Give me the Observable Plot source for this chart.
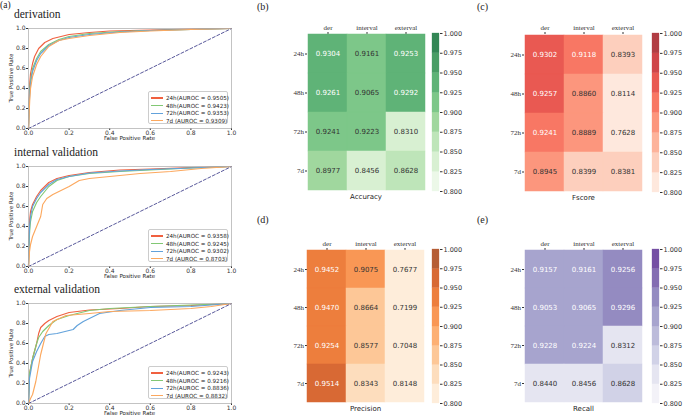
<!DOCTYPE html>
<html><head><meta charset="utf-8">
<script src="https://cdn.jsdelivr.net/npm/d3@7"></script>
<script src="https://cdn.jsdelivr.net/npm/@observablehq/plot@0.6"></script>
<style>
body{margin:0;background:#fff}
#fig{position:relative;width:685px;height:417px;overflow:hidden;background:#fff;font-family:"DejaVu Sans",sans-serif;color:#222}
</style></head><body><div id="fig"></div>
<script>
// ---------------- data ----------------
const rocSeries = ["24h", "48h", "72h", "7d"];
const rocTicks = [0, 0.2, 0.4, 0.6, 0.8, 1.0];
const chanceLine = [0, 1];

const aurocDerivation = [0.9505, 0.9423, 0.9353, 0.9309];
const aurocInternal = [0.9358, 0.9245, 0.9302, 0.8703];
const aurocExternal = [0.9243, 0.9216, 0.8836, 0.8832];

const derivation24h = [[0,0],[0.003,0.3],[0.006,0.45],[0.01,0.55],[0.02,0.65],[0.03,0.72],[0.05,0.8],[0.08,0.86],[0.12,0.9],[0.2,0.94],[0.3,0.96],[0.4,0.975],[0.6,0.985],[0.8,0.995],[1,1]];
const derivation48h = [[0,0],[0.003,0.25],[0.006,0.38],[0.01,0.48],[0.02,0.6],[0.04,0.7],[0.06,0.77],[0.1,0.84],[0.15,0.89],[0.2,0.92],[0.3,0.95],[0.45,0.97],[0.6,0.98],[0.8,0.99],[1,1]];
const derivation72h = [[0,0],[0.003,0.22],[0.006,0.35],[0.01,0.45],[0.02,0.57],[0.04,0.68],[0.06,0.75],[0.1,0.83],[0.15,0.88],[0.2,0.91],[0.3,0.94],[0.45,0.965],[0.6,0.98],[0.8,0.99],[1,1]];
const derivation7d = [[0,0],[0.003,0.15],[0.006,0.28],[0.01,0.4],[0.02,0.52],[0.04,0.64],[0.06,0.72],[0.1,0.82],[0.15,0.88],[0.2,0.9],[0.3,0.93],[0.45,0.96],[0.6,0.975],[0.8,0.99],[1,1]];

const internal24h = [[0,0],[0.003,0.35],[0.006,0.47],[0.01,0.55],[0.02,0.62],[0.04,0.7],[0.06,0.76],[0.1,0.84],[0.14,0.88],[0.2,0.91],[0.3,0.94],[0.45,0.965],[0.6,0.975],[0.8,0.99],[1,1]];
const internal48h = [[0,0],[0.003,0.25],[0.006,0.36],[0.01,0.45],[0.02,0.55],[0.04,0.64],[0.06,0.7],[0.1,0.8],[0.14,0.86],[0.2,0.9],[0.3,0.93],[0.45,0.95],[0.6,0.965],[0.8,0.985],[1,1]];
const internal72h = [[0,0],[0.003,0.3],[0.006,0.42],[0.01,0.5],[0.02,0.6],[0.04,0.68],[0.06,0.74],[0.1,0.82],[0.14,0.87],[0.2,0.9],[0.3,0.935],[0.45,0.955],[0.6,0.97],[0.8,0.985],[1,1]];
const internal7d = [[0,0],[0.005,0.15],[0.01,0.22],[0.02,0.3],[0.04,0.4],[0.06,0.5],[0.07,0.62],[0.09,0.68],[0.12,0.72],[0.16,0.76],[0.2,0.8],[0.25,0.86],[0.3,0.88],[0.4,0.9],[0.55,0.93],[0.7,0.95],[0.85,0.98],[1,1]];

const external24h = [[0,0],[0.005,0.3],[0.02,0.45],[0.04,0.6],[0.05,0.7],[0.06,0.76],[0.08,0.8],[0.1,0.83],[0.14,0.87],[0.2,0.91],[0.3,0.935],[0.45,0.95],[0.6,0.97],[0.8,0.98],[1,1]];
const external48h = [[0,0],[0.005,0.3],[0.02,0.45],[0.04,0.6],[0.05,0.66],[0.07,0.72],[0.1,0.78],[0.14,0.84],[0.2,0.88],[0.3,0.93],[0.4,0.95],[0.6,0.97],[0.8,0.985],[1,1]];
const external72h = [[0,0],[0.005,0.25],[0.02,0.42],[0.04,0.52],[0.06,0.6],[0.08,0.67],[0.1,0.69],[0.14,0.7],[0.18,0.72],[0.22,0.74],[0.24,0.78],[0.27,0.82],[0.3,0.85],[0.35,0.9],[0.45,0.93],[0.6,0.96],[0.8,0.97],[1,1]];
const external7d = [[0,0],[0.01,0.05],[0.02,0.09],[0.036,0.22],[0.06,0.49],[0.086,0.7],[0.12,0.82],[0.185,0.88],[0.3,0.9],[0.4,0.92],[0.6,0.93],[0.8,0.95],[0.9,0.97],[1,1]];

const hmRows = ["24h", "48h", "72h", "7d"];
const hmCols = ["der", "interval", "exterval"];
const accuracy = [[0.9304,0.9161,0.9253],[0.9261,0.9065,0.9292],[0.9241,0.9223,0.8310],[0.8977,0.8456,0.8628]];
const fscore = [[0.9302,0.9118,0.8393],[0.9257,0.8860,0.8114],[0.9241,0.8889,0.7628],[0.8945,0.8399,0.8381]];
const precision = [[0.9452,0.9075,0.7677],[0.9470,0.8664,0.7199],[0.9254,0.8577,0.7048],[0.9514,0.8343,0.8148]];
const recall = [[0.9157,0.9161,0.9256],[0.9053,0.9065,0.9296],[0.9228,0.9224,0.8312],[0.8440,0.8456,0.8628]];
const cbTicks = [0.800, 0.825, 0.850, 0.875, 0.900, 0.925, 0.950, 0.975, 1.000];

// ---------------- layout helpers ----------------
const fig = document.getElementById("fig");
function add(el, css) { el.style.position = "absolute"; Object.assign(el.style, css); fig.appendChild(el); return el; }
function label(text, css) {
  const d = document.createElement("div");
  d.textContent = text; d.style.whiteSpace = "nowrap"; d.style.lineHeight = "1";
  return add(d, css);
}
const SERIF = '"Liberation Serif","DejaVu Serif",serif';
const SANS = '"DejaVu Sans",sans-serif';
const rocColors = ["#f0603f", "#82c874", "#62a2db", "#fca85e"];

// ---------------- ROC panels ----------------
function drawRoc(title, curves, aurocs, frameTop) {
  const data = curves.flatMap((pts, i) => pts.map(([x, y]) => ({x, y, s: rocSeries[i]})));
  const chance = chanceLine.map(v => ({x: v, y: v}));
  const mt = 6, mb = 14, fh = 100;
  const svg = Plot.plot({
    width: 239, height: fh + mt + mb,
    marginLeft: 28, marginRight: 8, marginTop: mt, marginBottom: mb,
    style: {fontFamily: SANS, fontSize: "6px", color: "#333", background: "none", overflow: "visible"},
    x: {domain: [0, 1], label: null},
    y: {domain: [0, 1], label: null},
    color: {domain: rocSeries, range: rocColors},
    marks: [
      Plot.axisX({ticks: rocTicks, tickFormat: d => d.toFixed(1), tickSize: 2, tickPadding: 0.5, label: null}),
      Plot.axisY({ticks: rocTicks, tickFormat: d => d.toFixed(1), tickSize: 2, tickPadding: 1, label: null}),
      Plot.line(data, {x: "x", y: "y", z: "s", stroke: "s", strokeWidth: 1.15}),
      Plot.line(chance, {x: "x", y: "y", stroke: "#45458f", strokeWidth: 0.9, strokeDasharray: "3,2"}),
      Plot.frame({stroke: "#aaa", strokeWidth: 0.7})
    ]
  });
  add(svg, {left: "0px", top: (frameTop - mt) + "px"});
  label(title, {left: "14px", top: (frameTop - 19) + "px", fontFamily: SERIF, fontSize: "11.5px", color: "#222"});
  label("True Positive Rate", {left: "12px", top: (frameTop + fh / 2) + "px", fontSize: "5.5px",
    transform: "translate(-50%,-50%) rotate(-90deg)", fontFamily: SANS});
  label("False Positive Rate", {left: "129.5px", top: (frameTop + fh + 11) + "px", fontSize: "5.5px",
    transform: "translate(-50%,-50%)", fontFamily: SANS});
  // legend
  const lg = document.createElement("div");
  add(lg, {left: "148px", top: (frameTop + 63) + "px", width: "80px", height: "33px", border: "0.7px solid #ccc",
    borderRadius: "2px", background: "#fff", boxSizing: "border-box"});
  rocSeries.forEach((s, i) => {
    const row = document.createElement("div");
    row.style.cssText = "position:absolute;left:2px;top:" + (2.5 + i * 7.6) + "px;height:7px;display:flex;align-items:center;white-space:nowrap";
    const sw = document.createElement("span");
    sw.style.cssText = "display:inline-block;width:12px;height:1.3px;background:" + rocColors[i] + ";margin-right:3px";
    const tx = document.createElement("span");
    tx.textContent = s.padEnd(3, " ") + "(AUROC = " + aurocs[i].toFixed(4) + ")";
    tx.style.cssText = "font-size:5.6px;font-family:" + SANS + ";white-space:pre;color:#222";
    row.appendChild(sw); row.appendChild(tx); lg.appendChild(row);
  });
}

label("(a)", {left: "0px", top: "1px", fontFamily: SERIF, fontSize: "9.5px"});
drawRoc("derivation", [derivation24h, derivation48h, derivation72h, derivation7d], aurocDerivation, 28);
drawRoc("internal validation", [internal24h, internal48h, internal72h, internal7d], aurocInternal, 166);
drawRoc("external validation", [external24h, external48h, external72h, external7d], aurocExternal, 303);

// ---------------- heatmaps ----------------
function blend(c, a) {
  const r = d3.rgb(c);
  return d3.rgb(255 - a * (255 - r.r), 255 - a * (255 - r.g), 255 - a * (255 - r.b)).formatHex();
}
function lum(c) {
  const r = d3.rgb(c);
  const f = v => { v /= 255; return v <= 0.03928 ? v / 12.92 : Math.pow((v + 0.055) / 1.055, 2.4); };
  return 0.2126 * f(r.r) + 0.7152 * f(r.g) + 0.0722 * f(r.b);
}
function drawHeat(caption, values, scheme, x0, y0, x1, y1, cbx) {
  const interp = d3.piecewise(d3.interpolateRgb, scheme);
  const colors = d3.range(8).map(i => blend(interp((i + 1) / 9), 0.8));
  const scale = {type: "threshold", domain: cbTicks.slice(1, -1), range: colors};
  const cs = d3.scaleThreshold(cbTicks.slice(1, -1), colors);
  const data = hmRows.flatMap((r, i) => hmCols.map((c, j) => ({r, c, v: values[i][j]})));
  const ML = 37, MT = 16;
  const svg = Plot.plot({
    width: (x1 - x0) + ML, height: (y1 - y0) + MT,
    marginLeft: ML, marginTop: MT, marginRight: 0, marginBottom: 0,
    style: {fontFamily: SERIF, fontSize: "7px", color: "#333", background: "none", overflow: "visible"},
    x: {domain: hmCols, padding: 0, axis: "top", label: null, tickSize: 2, tickPadding: 1.5},
    y: {domain: hmRows, padding: 0, label: null, tickSize: 2, tickPadding: 1.5},
    color: scale,
    marks: [
      Plot.cell(data, {x: "c", y: "r", fill: "v", stroke: "v", strokeWidth: 0.5, inset: 0}),
      Plot.text(data, {x: "c", y: "r", text: d => d.v.toFixed(4), fontFamily: SANS, fontSize: 7,
        fill: d => lum(cs(d.v)) < 0.408 ? "#fff" : "#333"})
    ]
  });
  add(svg, {left: (x0 - ML) + "px", top: (y0 - MT) + "px"});
  const bins = d3.pairs(cbTicks).map(([lo, hi]) => ({lo, hi, mid: (lo + hi) / 2}));
  const cb = Plot.plot({
    width: 7 + 34, height: (y1 - y0) + 10, marginLeft: 0, marginRight: 34, marginTop: 5, marginBottom: 5,
    style: {fontFamily: SANS, fontSize: "6.5px", color: "#333", background: "none", overflow: "visible"},
    y: {domain: [0.8, 1.0], axis: "right", ticks: cbTicks, tickFormat: d => d.toFixed(3), tickSize: 2.5, tickPadding: 1.5, label: null},
    color: scale,
    marks: [Plot.barY(bins, {y1: "lo", y2: "hi", fill: "mid", stroke: "mid", strokeWidth: 0.3})]
  });
  add(cb, {left: cbx + "px", top: (y0 - 5) + "px"});
  label(caption, {left: ((x0 + x1) / 2) + "px", top: (y1 + 6) + "px", transform: "translate(-50%,-50%)",
    fontFamily: SANS, fontSize: "7px", color: "#222"});
}
drawHeat("Accuracy", accuracy, d3.schemeGreens[9], 307, 33, 425, 191, 432);
drawHeat("Fscore", fscore, d3.schemeReds[9], 524, 33, 643, 192, 652);
drawHeat("Precision", precision, d3.schemeOranges[9], 307, 249, 424, 403, 432);
drawHeat("Recall", recall, d3.schemePurples[9], 524, 249, 643, 403, 652);

label("(b)", {left: "257px", top: "2px", fontFamily: SERIF, fontSize: "10px"});
label("(c)", {left: "477px", top: "2px", fontFamily: SERIF, fontSize: "10px"});
label("(d)", {left: "257px", top: "215px", fontFamily: SERIF, fontSize: "10px"});
label("(e)", {left: "477px", top: "215px", fontFamily: SERIF, fontSize: "10px"});
</script>
</body></html>
